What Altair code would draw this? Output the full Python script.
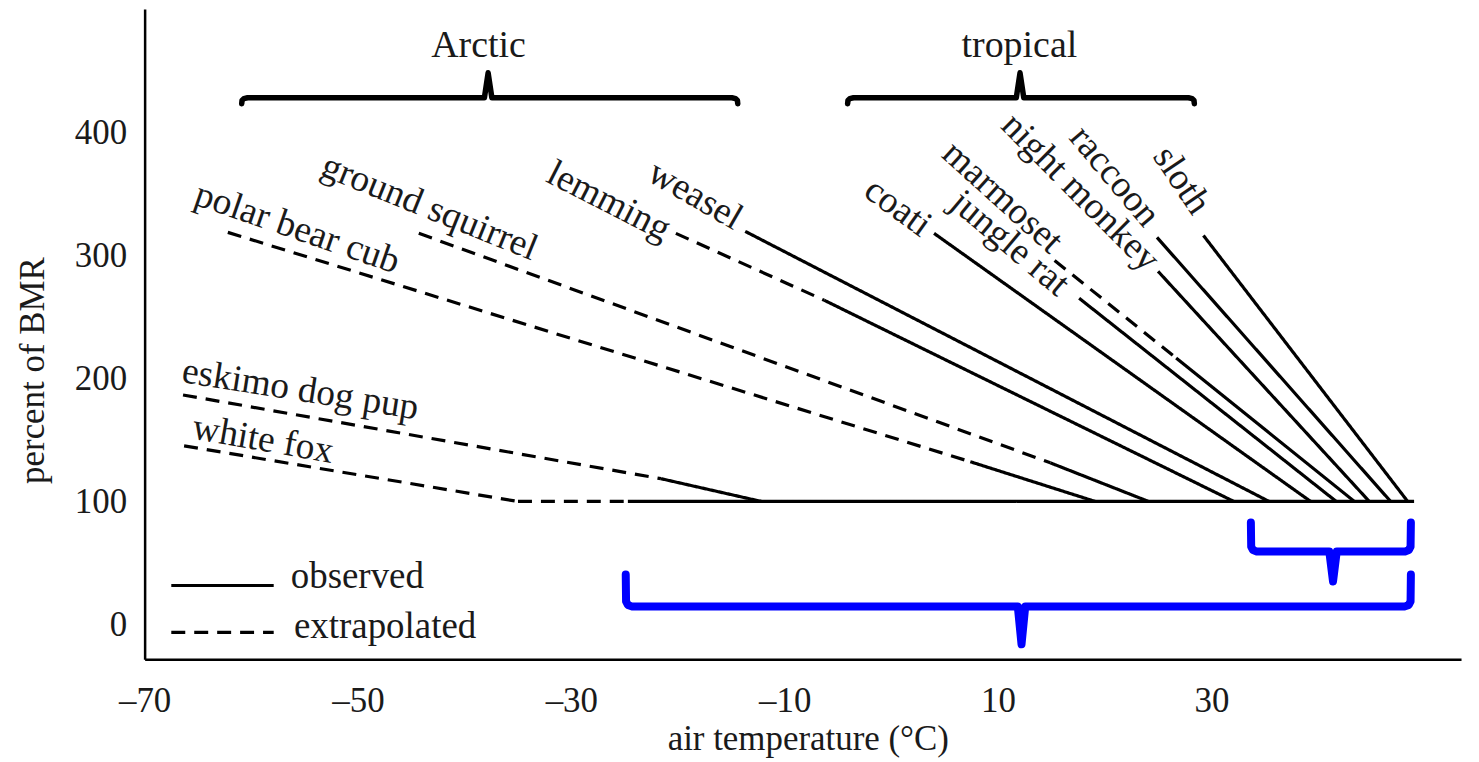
import altair as alt
import pandas as pd

FONT = "Liberation Serif"
INK = "#1a1a1a"

# ---- curve segments (air temperature °C, percent of BMR) ----
seg_species = ["white fox", "white fox", "white fox",
               "eskimo dog pup", "eskimo dog pup",
               "polar bear cub", "polar bear cub",
               "ground squirrel", "ground squirrel",
               "lemming", "lemming",
               "weasel", "coati", "jungle rat",
               "marmoset", "marmoset",
               "night monkey", "raccoon", "sloth"]
seg_x0 = [-66.3, -35.0, -24.7, -66.4, -21.6, -62.2, 7.4, -44.3, 14.9, -20.2, -6.3,
          -13.7, 4.0, 17.6, 15.3, 26.7, 25.0, 24.9, 29.25]
seg_y0 = [145.2, 100, 100, 186.6, 118.5, 318.9, 132.3, 318.1, 131.4, 318.1, 263.7,
          319.7, 318.1, 265.3, 296.1, 216.6, 287.2, 314.8, 316.4]
seg_x1 = [-35.0, -24.7, 49.0, -21.6, -12.2, 7.4, 19.1, 14.9, 24.1, -6.3, 32.1,
          35.4, 39.3, 41.7, 26.7, 43.4, 44.8, 46.8, 48.4]
seg_y1 = [100, 100, 100, 118.5, 100, 132.3, 100, 131.4, 100, 263.7, 100,
          100, 100, 100, 216.6, 100, 100, 100, 100]
seg_kind = ["extrapolated", "extrapolated", "observed",
            "extrapolated", "observed",
            "extrapolated", "observed",
            "extrapolated", "observed",
            "extrapolated", "observed",
            "observed", "observed", "observed",
            "extrapolated", "observed",
            "observed", "observed", "observed"]

# ---- species labels ----
label_text = ["sloth", "raccoon", "night monkey", "marmoset", "jungle rat", "coati",
              "weasel", "lemming", "ground squirrel", "polar bear cub",
              "eskimo dog pup", "white fox"]
label_x = [27.2, 20.9, 17.7, 10.4, 11.1, 0.6, -18.4, -26.5, -43.3, -55.7, -55.4, -58.9]
label_y = [361.1, 364.3, 351.3, 347.3, 309.9, 339.1, 348.9, 344.0, 339.1, 322.1, 190.7, 150.1]
label_angle = [56, 50, 45, 42, 40, 36, 30, 27, 22, 19, 9, 10]

# ---- climate-zone braces ----
zone_text = ["Arctic", "tropical"]
zone_x0 = [-60.9, -4.1]
zone_x1 = [-14.4, 28.4]
zone_xc = [-37.8, 12.06]
zone_bar = [428.4, 428.4]
zone_arm = [423.5, 423.5]
zone_tip = [448.7, 448.7]
zone_label_x = [-38.7, 12.0]
zone_label_y = [470.6, 470.6]

# ---- blue highlight braces ----
blue_x0 = [-24.9, 33.7]
blue_x1 = [48.7, 48.7]
blue_xc = [12.2, 41.4]
blue_bar = [14.6, 59.2]
blue_arm = [40.6, 82.8]
blue_tip = [-16.2, 34.9]

# ---- legend ----
legend_kind = ["observed", "extrapolated"]
legend_x0 = [-67.5, -67.5]
legend_x1 = [-57.9, -57.9]
legend_line_y = [31.6, -6.5]
legend_text_x = [-56.3, -56.0]
legend_text_y = [38.1, -2.4]

X_DOMAIN = [-70, 53.4]
Y_DOMAIN = [-28.4, 500.6]

segs = pd.DataFrame({"species": seg_species, "x": seg_x0, "y": seg_y0,
                     "x2": seg_x1, "y2": seg_y1, "kind": seg_kind})
labels = pd.DataFrame({"text": label_text, "x": label_x, "y": label_y, "angle": label_angle})


def brace_points(bid, x0, x1, xc, bar, arm, tip, color, width):
    d = 1 if arm > bar else -1
    h = abs(arm - bar)
    pts = [
        (x0, arm),
        (x0 + 0.03, bar + d * min(4.0, h * 0.45)),
        (x0 + 0.2, bar + d * min(1.2, h * 0.15)),
        (x0 + 0.55, bar),
        (xc - 0.35, bar),
        (xc, tip),
        (xc + 0.35, bar),
        (x1 - 0.55, bar),
        (x1 - 0.2, bar + d * min(1.2, h * 0.15)),
        (x1 - 0.03, bar + d * min(4.0, h * 0.45)),
        (x1, arm),
    ]
    return [{"bid": bid, "order": i, "x": px, "y": py, "color": color, "w": width}
            for i, (px, py) in enumerate(pts)]


brace_rows = []
for i in range(len(zone_text)):
    brace_rows += brace_points("z%d" % i, zone_x0[i], zone_x1[i], zone_xc[i],
                               zone_bar[i], zone_arm[i], zone_tip[i], "#000000", 5.5)
for i in range(len(blue_x0)):
    brace_rows += brace_points("b%d" % i, blue_x0[i], blue_x1[i], blue_xc[i],
                               blue_bar[i], blue_arm[i], blue_tip[i], "#0000ff", 8)
braces = pd.DataFrame(brace_rows)

zones = pd.DataFrame({"text": zone_text, "x": zone_label_x, "y": zone_label_y})
legend = pd.DataFrame({"kind": legend_kind, "x": legend_x0, "x2": legend_x1,
                       "y": legend_line_y, "tx": legend_text_x, "ty": legend_text_y})

xs = alt.Scale(domain=X_DOMAIN, nice=False, zero=False)
ys = alt.Scale(domain=Y_DOMAIN, nice=False, zero=False)
dash = alt.Scale(domain=["observed", "extrapolated"], range=[[1, 0], [14, 9]])

x_axis = alt.Axis(values=[-70, -50, -30, -10, 10, 30], ticks=False, grid=False,
                  labelFlush=False, labelOverlap=False,
                  domainColor="#000", domainWidth=2.5,
                  labelFont=FONT, labelFontSize=35, labelColor=INK, labelPadding=24,
                  labelExpr="datum.value < 0 ? '\u2013' + abs(datum.value) : datum.value",
                  title="air temperature (°C)", titleFont=FONT, titleFontSize=35,
                  titleFontWeight="normal", titleColor=INK,
                  titleX=665, titleY=80, titleBaseline="middle", titleAlign="center")
y_axis = alt.Axis(values=[0, 100, 200, 300, 400], ticks=False, grid=False,
                  domainColor="#000", domainWidth=2.5,
                  labelFont=FONT, labelFontSize=35, labelColor=INK, labelPadding=18,
                  title="percent of BMR", titleFont=FONT, titleFontSize=35,
                  titleFontWeight="normal", titleColor=INK,
                  titleX=-112, titleY=362, titleAngle=270,
                  titleBaseline="middle", titleAlign="center")

lines = alt.Chart(segs).mark_rule(color="#000", strokeWidth=3.2, strokeCap="butt").encode(
    x=alt.X("x:Q", scale=xs, axis=x_axis),
    y=alt.Y("y:Q", scale=ys, axis=y_axis),
    x2="x2:Q", y2="y2:Q",
    strokeDash=alt.StrokeDash("kind:N", scale=dash, legend=None),
)

label_layer = alt.Chart(labels).mark_text(font=FONT, fontSize=37.5, color=INK,
                                          align="center", baseline="middle").encode(
    x=alt.X("x:Q", scale=xs), y=alt.Y("y:Q", scale=ys),
    text="text:N", angle=alt.Angle("angle:Q", scale=None),
)

brace_layer = alt.Chart(braces).mark_line(strokeJoin="round", strokeCap="round").encode(
    x=alt.X("x:Q", scale=xs), y=alt.Y("y:Q", scale=ys),
    order="order:Q", detail="bid:N",
    color=alt.Color("color:N", scale=None),
    strokeWidth=alt.StrokeWidth("w:Q", scale=None),
)

zone_layer = alt.Chart(zones).mark_text(font=FONT, fontSize=38, color=INK,
                                        align="center", baseline="middle").encode(
    x=alt.X("x:Q", scale=xs), y=alt.Y("y:Q", scale=ys), text="text:N",
)

legend_lines = alt.Chart(legend).mark_rule(color="#000", strokeWidth=3.2).encode(
    x=alt.X("x:Q", scale=xs), x2="x2:Q", y=alt.Y("y:Q", scale=ys),
    strokeDash=alt.StrokeDash("kind:N", scale=dash, legend=None),
)
legend_text = alt.Chart(legend).mark_text(font=FONT, fontSize=37, color=INK,
                                          align="left", baseline="middle").encode(
    x=alt.X("tx:Q", scale=xs), y=alt.Y("ty:Q", scale=ys), text="kind:N",
)

chart = alt.layer(lines, label_layer, brace_layer, zone_layer, legend_lines, legend_text).properties(
    width=1320, height=652,
    autosize=alt.AutoSizeParams(type="none"),
    padding={"left": 137, "top": 0, "right": 10, "bottom": 100},
    background="white",
).configure_view(stroke=None)

chart.save("out.html", embed_options={"renderer": "svg", "actions": False})
